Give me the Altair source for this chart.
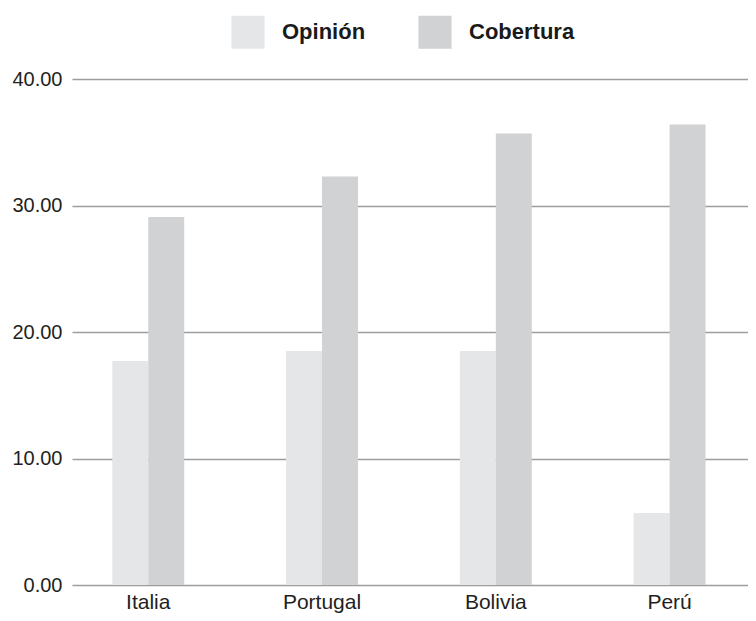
import altair as alt
import pandas as pd

countries = ["Italia", "Portugal", "Bolivia", "Perú"]
series = ["Opinión", "Cobertura"]
opinion = [17.7, 18.5, 18.5, 5.7]
cobertura = [29.1, 32.3, 35.7, 36.4]
y_ticks = [0, 10, 20, 30, 40]
colors = ["#e5e6e8", "#d1d2d4"]

rows = []
for c, o, cb in zip(countries, opinion, cobertura):
    rows.append({"pais": c, "serie": series[0], "valor": o})
    rows.append({"pais": c, "serie": series[1], "valor": cb})
df = pd.DataFrame(rows)

FONT = "Liberation Sans, Arial, sans-serif"

chart = alt.Chart(df).mark_bar().encode(
    x=alt.X("pais:N", sort=countries, title=None,
            scale=alt.Scale(paddingInner=0.586, paddingOuter=0.238, align=0.487),
            axis=alt.Axis(labelAngle=0, domain=False, ticks=False, labelFontSize=21,
                          labelPadding=6, labelColor="#231f20", labelFont=FONT)),
    xOffset=alt.XOffset("serie:N", sort=series,
                        scale=alt.Scale(paddingInner=0, paddingOuter=0)),
    y=alt.Y("valor:Q", title=None,
            scale=alt.Scale(domain=[0, 40], nice=False),
            axis=alt.Axis(values=y_ticks, format=".2f", domain=False, ticks=False,
                          grid=True, gridColor="#9d9d9d", gridWidth=1.5,
                          labelFontSize=20, labelPadding=10, labelColor="#231f20",
                          labelFont=FONT)),
    color=alt.Color("serie:N", sort=series,
                    scale=alt.Scale(domain=series, range=colors),
                    legend=alt.Legend(title=None, orient="none", legendX=159, legendY=-64,
                                      direction="horizontal", symbolType="square",
                                      symbolSize=1100, symbolStrokeWidth=0,
                                      labelFont=FONT, labelFontWeight="bold",
                                      labelFontSize=22, labelColor="#1a1a1a",
                                      labelOffset=17, columnPadding=52, padding=0)),
).properties(
    width=676, height=506,
    autosize=alt.AutoSizeParams(type="none"),
    padding={"left": 64, "top": 71, "right": 0, "bottom": 28},
).configure_view(stroke=None)

chart.save("out.html", embed_options={"renderer": "svg", "actions": False})
